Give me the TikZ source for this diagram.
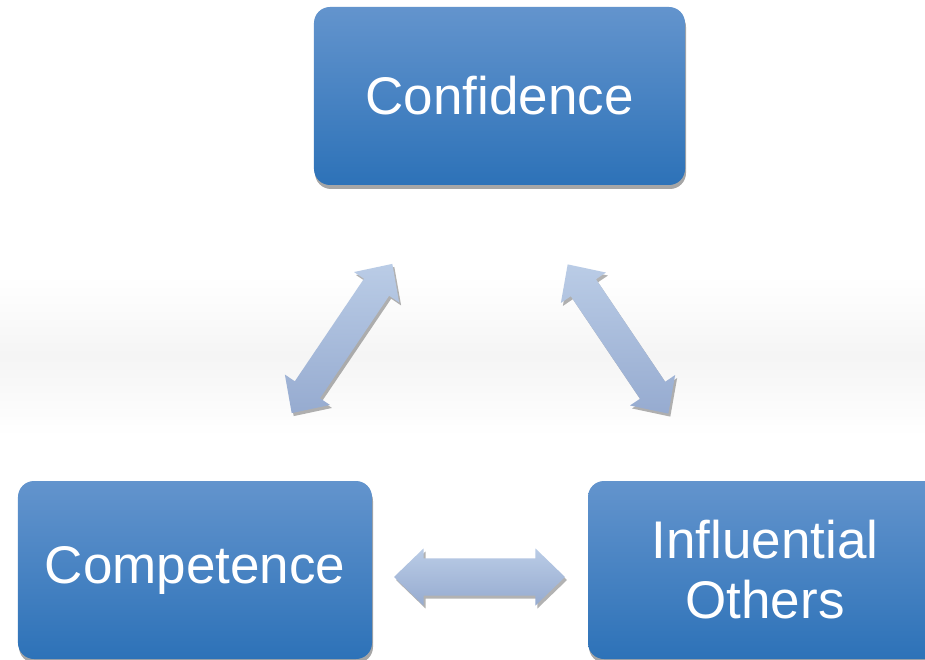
\documentclass[tikz,border=0pt]{standalone}
\usepackage{fontspec}
\setmainfont{Liberation Sans}
\usetikzlibrary{positioning, shapes.arrows, shadows}

\definecolor{boxtop}{RGB}{99,148,205}
\definecolor{boxbottom}{RGB}{45,114,184}
\definecolor{linktop}{RGB}{186,204,230}
\definecolor{linkbottom}{RGB}{150,171,208}

\begin{document}
\begin{tikzpicture}[
            x = 1pt, y = 1pt,
            on grid,
            box/.style = {rectangle, rounded corners=16pt, minimum width=354pt, minimum height=178pt,
                top color=boxtop, bottom color=boxbottom, text=white, align=center,
                font=\fontsize{53}{60}\selectfont,
                drop shadow={shadow xshift=1pt, shadow yshift=-4pt, fill=black, opacity=0.35}},
            link/.style = {double arrow, inner xsep=0pt, inner ysep=15pt,
                double arrow head extend=12pt, double arrow tip angle=88,
                top color=linktop, bottom color=linkbottom,
                drop shadow={shadow xshift=2pt, shadow yshift=-3pt, fill=black, opacity=0.3}}
        ]

            % Frame
            \clip (-499.5,-564) rectangle (425.5,96);
            \fill[white] (-499.5,-564) rectangle (425.5,96);
            \shade[top color=white, bottom color=white, middle color=black!4] (-499.5,-180) rectangle (425.5,-340);

            % Boxes
            \node[box, minimum width=371pt] (conf) {Confidence};
            \node[box] (comp) [below left=474pt and 304.5pt of conf] {Competence};
            \node[box] (infl) [below right=474pt and 265.5pt of conf] {Influential\\Others};

            % Links between the boxes
            \node[link, minimum height=180pt, rotate=56] (conf-comp) [below left=242.5pt and 157.5pt of conf] {};
            \node[link, minimum height=180pt, rotate=-56] (conf-infl) [below right=243pt and 118.5pt of conf] {};
            \node[link, minimum height=171pt, inner ysep=18.5pt, double arrow head extend=10pt] (comp-infl) [below left=481pt and 20pt of conf] {};

        \end{tikzpicture}
\end{document}
